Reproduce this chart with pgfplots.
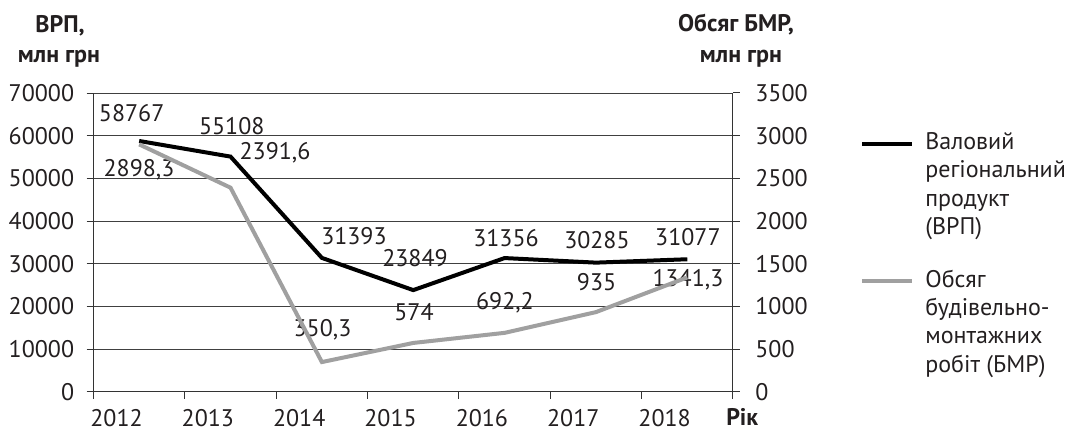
\documentclass[border=0pt]{standalone}
\usepackage{pgfplots}
\pgfplotsset{compat=1.18}
\usepackage{fontspec}
\setmainfont{PT Sans}
\definecolor{txt}{HTML}{231F20}
\definecolor{bmr}{HTML}{A0A0A0}
\begin{document}
\fontsize{12}{14}\selectfont
\begin{tikzpicture}[every node/.append style={text=txt}]
\useasboundingbox (0,0) rectangle (539pt,216pt);
\begin{axis}[
  at={(46.75pt,20pt)}, anchor=south west, scale only axis,
  width=319.75pt, height=149.5pt,
  xmin=0, xmax=7, ymin=0, ymax=70000,
  scaled y ticks=false,
  xtick={0,...,7}, xticklabels={2012,2013,2014,2015,2016,2017,2018,{}},
  xticklabel style={xshift=11.5pt, yshift=-1.2pt},
  yticklabel style={xshift=-2pt},
  ytick={0,10000,...,70000},
  ymajorgrids, grid style={black!75, line width=0.5pt},
  axis y line*=left, axis x line*=bottom,
  tick align=outside, major tick length=3.5pt,
  tick style={black!80, line width=0.5pt},
  axis line style={black!80, line width=0.5pt},
  /pgf/number format/1000 sep={},
  /pgf/number format/assume math mode=true,
  legend cell align=left,
  legend image code/.code={\draw[#1] (0pt,0pt) -- (25pt,0pt);},
  legend style={draw=none, fill=none, inner sep=0pt, at={(rel axis cs:1.1986,0.879)}, anchor=north west,
    row sep=0pt, column sep=5.5pt, font=\fontsize{12}{14}\selectfont,
    nodes={inner sep=0pt, text height=10pt, text depth=4.2pt}},
]
\addplot[black, line width=2pt] coordinates {(0.5,58767) (1.5,55108) (2.5,31393) (3.5,23849) (4.5,31356) (5.5,30285) (6.5,31077)};
\addlegendentry{Валовий}
\addlegendimage{empty legend}\addlegendentry{регіональний}
\addlegendimage{empty legend}\addlegendentry{продукт}
\addlegendimage{empty legend}\addlegendentry{(ВРП)}
\addlegendimage{empty legend}\addlegendentry[text height=8pt, text depth=4pt]{}
\addlegendimage{bmr, line width=2pt}\addlegendentry{Обсяг}
\addlegendimage{empty legend}\addlegendentry{будівельно-}
\addlegendimage{empty legend}\addlegendentry{монтажних}
\addlegendimage{empty legend}\addlegendentry{робіт (БМР)}
\node at (axis cs:0.418,65318) {58767};
\node at (axis cs:1.513,62344) {55108};
\node at (axis cs:1.987,55952) {2391,6};
\node at (axis cs:0.498,51972) {2898,3};
\node at (axis cs:2.851,36591) {31393};
\node at (axis cs:3.519,31371) {23849};
\node at (axis cs:2.507,14515) {350,3};
\node at (axis cs:3.508,18799) {574};
\node at (axis cs:4.515,36053) {31356};
\node at (axis cs:5.511,35585) {30285};
\node at (axis cs:6.507,36357) {31077};
\node at (axis cs:4.504,20836) {692,2};
\node at (axis cs:5.507,25822) {935};
\node at (axis cs:6.507,26220) {1341,3};
\end{axis}
\begin{axis}[
  at={(46.75pt,20pt)}, anchor=south west, scale only axis,
  width=319.75pt, height=149.5pt,
  xmin=0, xmax=7, ymin=0, ymax=3500,
  ytick={0,500,...,3500},
  yticklabel style={xshift=3.5pt},
  axis y line*=right, axis x line=none,
  tick align=outside, major tick length=3.5pt,
  tick style={black!80, line width=0.5pt},
  axis line style={black!80, line width=0.5pt},
  /pgf/number format/1000 sep={},
  /pgf/number format/assume math mode=true,
]
\addplot[bmr, line width=2pt] coordinates {(0.5,2898.3) (1.5,2391.6) (2.5,350.3) (3.5,574) (4.5,692.2) (5.5,935) (6.5,1341.3)};
\end{axis}
\node[font=\bfseries, anchor=base] at (30pt,199.5pt) {ВРП,};
\node[font=\bfseries, anchor=base] at (29.5pt,184.5pt) {млн грн};
\node[font=\bfseries, anchor=base] at (368pt,200pt) {Обсяг БМР,};
\node[font=\bfseries, anchor=base] at (370.5pt,184.5pt) {млн грн};
\node[font=\bfseries, anchor=base west] at (359pt,3.3pt) {Рік};
\end{tikzpicture}
\end{document}
